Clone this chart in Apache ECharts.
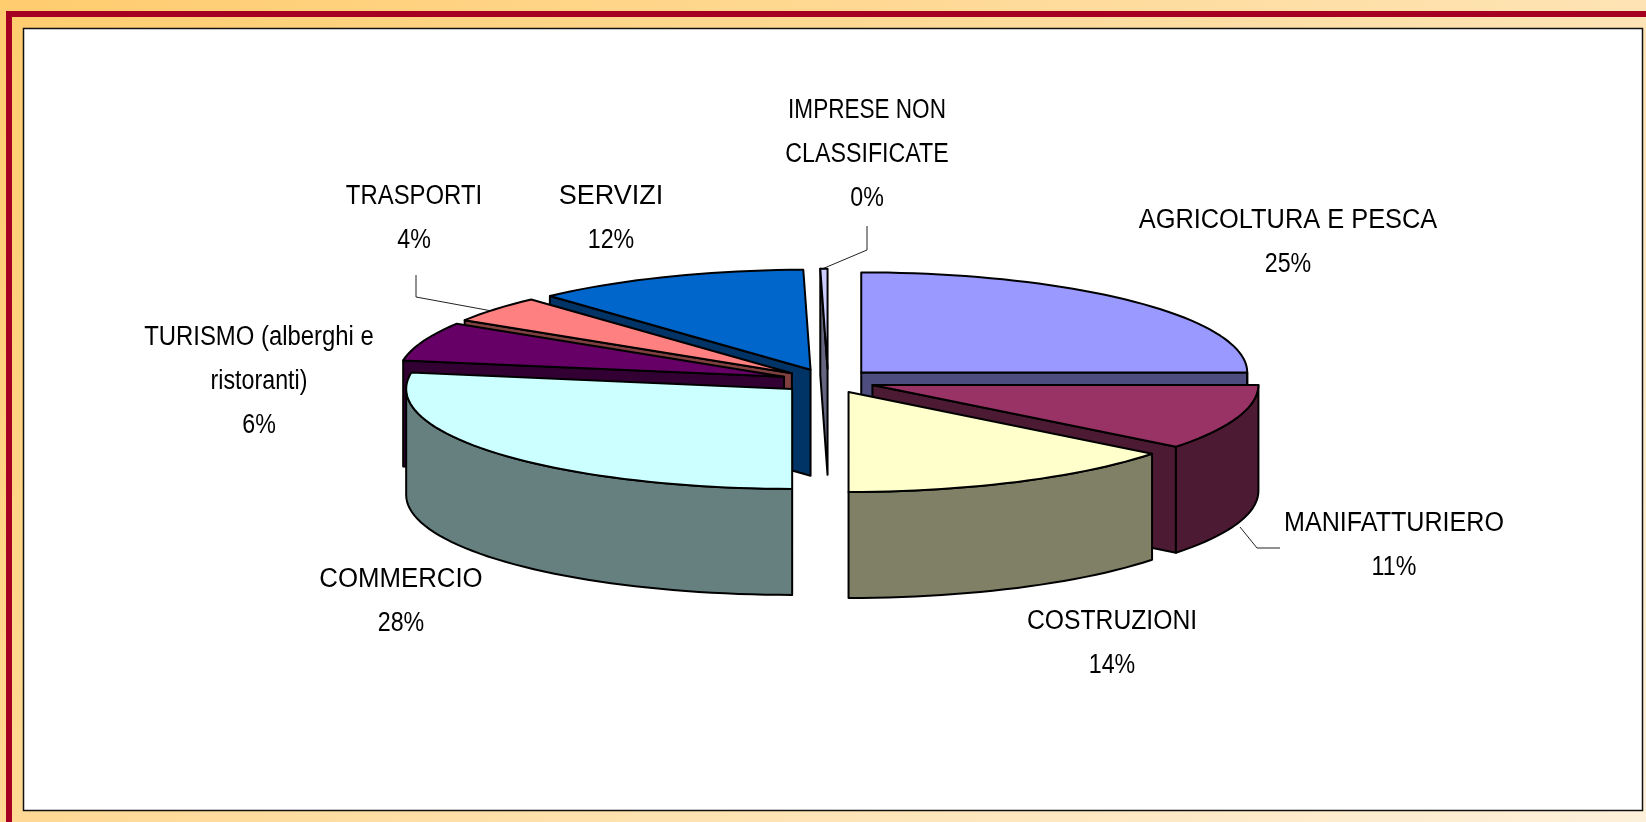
<!DOCTYPE html>
<html>
<head>
<meta charset="utf-8">
<title>Imprese per settore</title>
<style>
  html, body { margin: 0; padding: 0; background: #fff; }
  #chart { width: 1646px; height: 822px; }
</style>
<script src="https://cdn.jsdelivr.net/npm/echarts@6/dist/echarts.min.js"></script>
</head>
<body>
<div id="chart"></div>
<script>
// values, clockwise from 12 o'clock
const categories = [
  "AGRICOLTURA E PESCA",
  "MANIFATTURIERO",
  "COSTRUZIONI",
  "COMMERCIO",
  "TURISMO (alberghi e\nristoranti)",
  "TRASPORTI",
  "SERVIZI",
  "IMPRESE NON\nCLASSIFICATE",
];
const shares = [25, 10.6, 14.4, 27.6, 6.3, 4.3, 11.5, 0.3];
const topColors = ["#9999FF", "#993366", "#FFFFCC", "#CCFFFF", "#660066", "#FF8080", "#0066CC", "#CCCCFF"];
const sideColors = ["#4D4D80", "#4D1A33", "#808066", "#668080", "#330033", "#804040", "#003366", "#666680"];

// pie geometry
const cx = 828, cy = 381, rx = 386, ry = 100, depth = 106, explode = 47;
const lineColor = "#000";

// label centres and horizontal squeeze per name line, same order as categories
const labelCenters = [
  [1288, 243], [1394, 546], [1112, 644], [401, 602],
  [259, 382], [414, 219], [611, 219], [867, 155],
];
const nameSqueeze = [[0.94], [0.93], [0.915], [0.955], [0.885, 0.86], [0.885], [1.0], [0.835, 0.86]];
const leaders = [
  [[822, 269], [867, 250], [867, 226]],
  [[492, 311], [416, 297], [416, 275]],
  [[1240, 527], [1257, 548], [1280, 548]],
];

const total = shares.reduce((a, b) => a + b, 0);
let acc = 0;
const slices = shares.map((v, i) => {
  const start = (acc / total) * 360;
  acc += v;
  const end = (acc / total) * 360;
  return { index: i, value: v, start, end, mid: (start + end) / 2 };
});
// paint back to front
const drawOrder = slices.slice().sort((a, b) => -Math.cos(rad(a.mid)) + Math.cos(rad(b.mid)));

function rad(d) {
  return (d * Math.PI) / 180;
}

function rim(ox, oy, deg) {
  return [ox + rx * Math.sin(rad(deg)), oy - ry * Math.cos(rad(deg))];
}

function arcPoints(ox, oy, from, to) {
  const pts = [];
  const n = Math.max(2, Math.ceil((to - from) / 2));
  for (let i = 0; i <= n; i++) pts.push(rim(ox, oy, from + ((to - from) * i) / n));
  return pts;
}

function poly(points, fill) {
  return {
    type: "polygon",
    shape: { points },
    style: { fill, stroke: lineColor, lineWidth: 2, lineJoin: "round" },
  };
}

function radialWall(ox, oy, deg, fill) {
  const p = rim(ox, oy, deg);
  return poly([[ox, oy], p, [p[0], p[1] + depth], [ox, oy + depth]], fill);
}

function renderSlice(params, api) {
  const s = drawOrder[params.dataIndex];
  const ox = cx + explode * Math.sin(rad(s.mid));
  const oy = cy - (explode * ry / rx) * Math.cos(rad(s.mid));
  const side = sideColors[s.index];
  const children = [];
  if (Math.sin(rad(s.start)) < -1e-6) children.push(radialWall(ox, oy, s.start, side));
  if (Math.sin(rad(s.end)) > 1e-6) children.push(radialWall(ox, oy, s.end, side));
  const from = Math.max(s.start, 90), to = Math.min(s.end, 270);
  if (to > from) {
    const upper = arcPoints(ox, oy, from, to);
    const lower = upper.map((p) => [p[0], p[1] + depth]).reverse();
    children.push(poly(upper.concat(lower), side));
  }
  children.push(poly([[ox, oy]].concat(arcPoints(ox, oy, s.start, s.end)), topColors[s.index]));
  return { type: "group", children };
}

function renderLabel(params, api) {
  const i = api.value(0);
  const pos = labelCenters[i];
  const names = categories[i].split("\n");
  const lines = names.concat(Math.round((shares[i] / total) * 100) + "%");
  const children = lines.map((line, k) => ({
    type: "text",
    x: pos[0],
    y: pos[1] + (k - (lines.length - 1) / 2) * 44,
    scaleX: k < names.length ? nameSqueeze[i][k] : 0.86,
    style: {
      text: line,
      font: '27px "Liberation Sans", Arial, sans-serif',
      fill: "#000",
      align: "center",
      verticalAlign: "middle",
    },
  }));
  return { type: "group", children };
}

function renderLeader(params, api) {
  return {
    type: "polyline",
    shape: { points: leaders[params.dataIndex] },
    style: { fill: null, stroke: "#222", lineWidth: 1 },
  };
}

const chart = echarts.init(document.getElementById("chart"));
chart.setOption({
  animation: false,
  backgroundColor: new echarts.graphic.LinearGradient(0, 0, 0.712, 1.534, [
    { offset: 0, color: "#FFCC6E" },
    { offset: 1, color: "#FDF0DA" },
  ]),
  graphic: [
    { type: "rect", shape: { x: 6, y: 11, width: 1640, height: 6 }, style: { fill: "#A50021" } },
    { type: "rect", shape: { x: 6, y: 11, width: 6, height: 811 }, style: { fill: "#A50021" } },
    {
      type: "rect",
      shape: { x: 23.5, y: 28.5, width: 1619, height: 782 },
      style: { fill: "#fff", stroke: "#111", lineWidth: 1.5 },
    },
  ],
  series: [
    {
      type: "custom",
      coordinateSystem: "none",
      silent: true,
      renderItem: renderLeader,
      data: leaders.map((l, i) => [i]),
      z: 2,
    },
    {
      type: "custom",
      coordinateSystem: "none",
      silent: true,
      renderItem: renderSlice,
      data: drawOrder.map((s) => [s.value]),
      z: 3,
    },
    {
      type: "custom",
      coordinateSystem: "none",
      silent: true,
      renderItem: renderLabel,
      data: categories.map((c, i) => [i]),
      z: 4,
    },
  ],
});
</script>
</body>
</html>
